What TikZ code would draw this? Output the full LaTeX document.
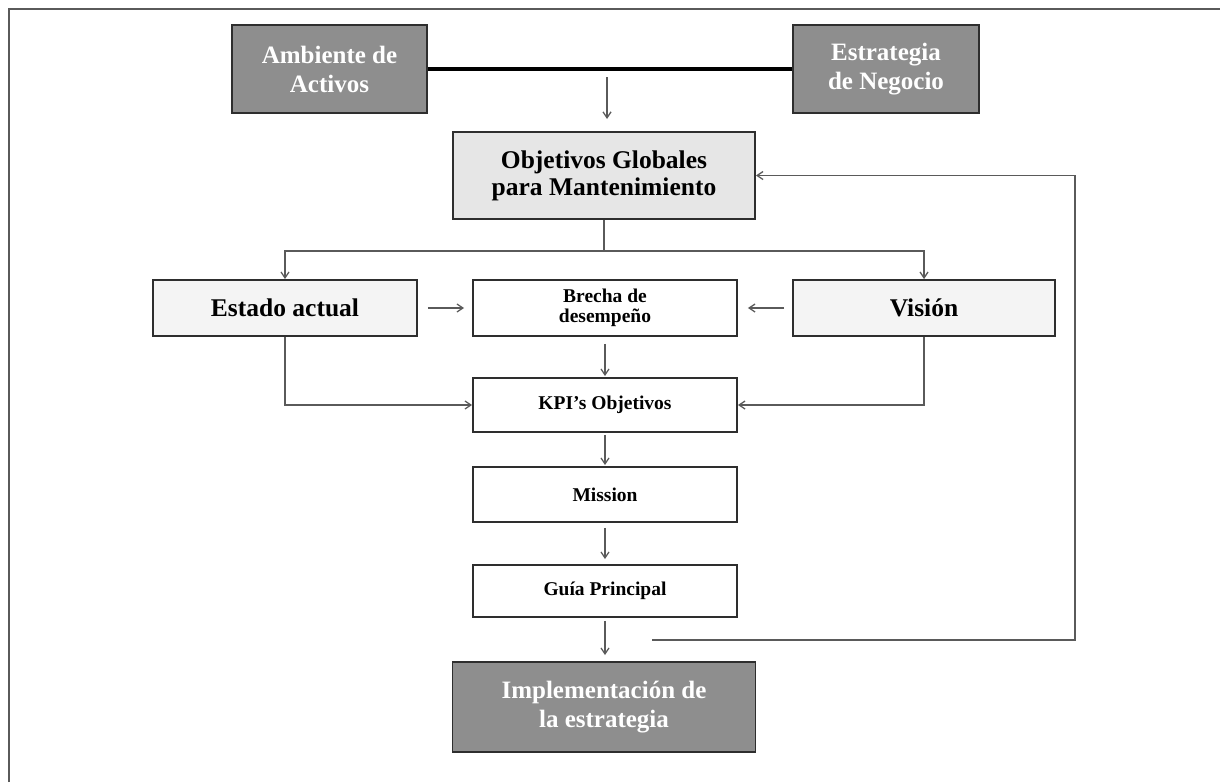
\documentclass[tikz,border=0pt]{standalone}
\usepackage{fontspec}
\setmainfont{Liberation Serif}
\usetikzlibrary{arrows.meta,calc}
\definecolor{darkfill}{HTML}{8E8E8E}
\definecolor{lightfill}{HTML}{E6E6E6}
\definecolor{palefill}{HTML}{F4F4F4}
\definecolor{edge}{HTML}{2E2E2E}
\definecolor{wire}{HTML}{5A5A5A}
\tikzset{
  box/.style={draw=edge, line width=1.8pt, inner sep=0pt, align=center, anchor=center},
  darkbox/.style={box, fill=darkfill, text=white, font=\fontsize{25}{29}\selectfont\bfseries},
  bigbox/.style={box, font=\fontsize{25.5}{27}\selectfont\bfseries},
  smallbox/.style={box, fill=white, font=\fontsize{19.5}{20.5}\selectfont\bfseries},
  arr/.style={draw=wire, line width=1.3pt, -{Straight Barb[length=6pt,width=8pt]}},
  wireline/.style={draw=wire, line width=1.3pt}
}
\begin{document}
\begin{tikzpicture}[x=1pt,y=-1pt]
\useasboundingbox (0,0) rectangle (1220,782);
% outer frame (top and left edges)
\draw[wire, line width=2pt] (9,782) -- (9,9) -- (1220,9);

% source boxes
\node[darkbox, minimum width=195pt, minimum height=88pt] (amb) at (329.5,69) {Ambiente de\\Activos};
\node[darkbox, minimum width=186pt, minimum height=88pt] (est) at (886,69) {Estrategia\\de Negocio};
\draw[black, line width=4pt] (amb.east) -- (est.west);

% global objectives
\node[bigbox, fill=lightfill, minimum width=302pt, minimum height=87pt] (obj) at (604,175.5) {Objetivos Globales\\para Mantenimiento};
\coordinate (join) at (607,77);
\coordinate (joinend) at (607,119);
\draw[arr] (join) -- (joinend);

% current state, gap, vision
\node[bigbox, fill=palefill, minimum width=264pt, minimum height=56pt] (estado) at (285,308) {Estado actual};
\node[smallbox, minimum width=264pt, minimum height=56pt] (brecha) at (605,308) {Brecha de\\desempeño};
\node[bigbox, fill=palefill, minimum width=262pt, minimum height=56pt] (vision) at (924,308) {Visión};

\coordinate (split) at (obj.south |- 0,251);
\draw[wireline] (obj.south) -- (split);
\draw[arr] (split) -| (estado.north);
\draw[arr] (split) -| (vision.north);
\draw[arr, shorten <=10pt, shorten >=8pt] (estado.east) -- (brecha.west);
\draw[arr, shorten <=8pt, shorten >=10pt] (vision.west) -- (brecha.east);

% chain of steps
\node[smallbox, minimum width=264pt, minimum height=54pt] (kpi) at (605,405) {KPI's Objetivos};
\node[smallbox, minimum width=264pt, minimum height=55pt] (mission) at (605,494.5) {Mission};
\node[smallbox, minimum width=264pt, minimum height=52pt] (guia) at (605,591) {Guía Principal};
\node[darkbox, minimum width=303pt, minimum height=90pt] (impl) at (604,707) {Implementación de\\la estrategia};

\draw[arr, shorten <=7pt, shorten >=1pt] (brecha.south) -- (kpi.north);
\draw[arr] (estado.south) |- (kpi.west);
\draw[arr] (vision.south) |- (kpi.east);
\draw[arr, shorten <=2pt, shorten >=1pt] (kpi.south) -- (mission.north);
\draw[arr, shorten <=5pt, shorten >=5pt] (mission.south) -- (guia.north);
\draw[arr, shorten <=3pt, shorten >=6pt] (guia.south) -- (guia.south |- impl.north);

% feedback loop to the global objectives
\coordinate (fb) at (652,640);
\coordinate (fbcorner) at (1075,640);
\draw[arr] (fb) -- (fbcorner) |- (obj.east);
\end{tikzpicture}
\end{document}
